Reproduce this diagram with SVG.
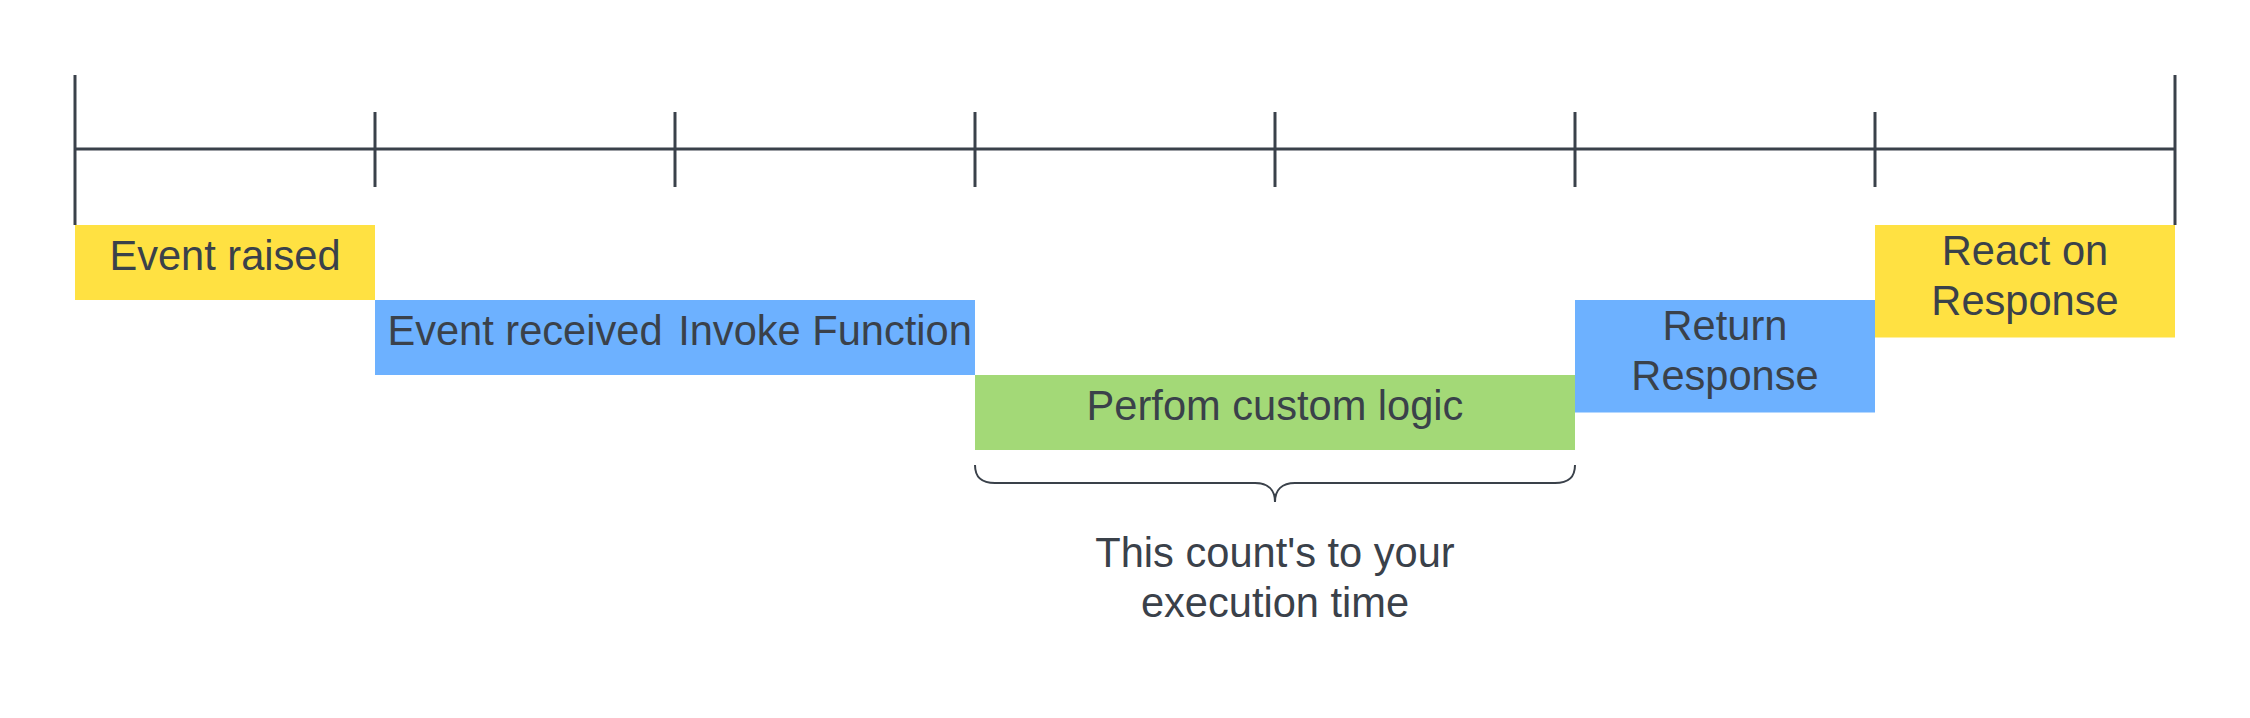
<svg xmlns="http://www.w3.org/2000/svg" width="2250" height="718" viewBox="0 0 2250 718">
  <style>
    .axis { stroke: #3A414A; stroke-width: 3; fill: none; }
    .brace { stroke: #3A414A; stroke-width: 2; fill: none; }
    .lbl { font-family: "Liberation Sans", Arial, sans-serif; font-size: 41.6px; fill: #3A414A; text-anchor: middle; }
    .yellow { fill: #FFE142; }
    .blue { fill: #6DB1FF; }
    .green { fill: #A3D977; }
  </style>
  <rect width="2250" height="718" fill="#FFFFFF"/>
  <g id="timeline">
    <line class="axis" x1="75" y1="149" x2="2175" y2="149"/>
    <line class="axis" x1="75" y1="75" x2="75" y2="225"/>
    <line class="axis" x1="2175" y1="75" x2="2175" y2="225"/>
    <line class="axis" x1="375" y1="112" x2="375" y2="187"/>
    <line class="axis" x1="675" y1="112" x2="675" y2="187"/>
    <line class="axis" x1="975" y1="112" x2="975" y2="187"/>
    <line class="axis" x1="1275" y1="112" x2="1275" y2="187"/>
    <line class="axis" x1="1575" y1="112" x2="1575" y2="187"/>
    <line class="axis" x1="1875" y1="112" x2="1875" y2="187"/>
  </g>
  <g id="event-raised">
    <rect class="yellow" x="75" y="225" width="300" height="75"/>
    <text class="lbl" x="225" y="270">Event raised</text>
  </g>
  <g id="event-received">
    <rect class="blue" x="375" y="300" width="300" height="75"/>
    <text class="lbl" x="525" y="345">Event received</text>
  </g>
  <g id="invoke-function">
    <rect class="blue" x="675" y="300" width="300" height="75"/>
    <text class="lbl" x="825" y="345">Invoke Function</text>
  </g>
  <g id="custom-logic">
    <rect class="green" x="975" y="375" width="600" height="75"/>
    <text class="lbl" x="1275" y="420">Perfom custom logic</text>
  </g>
  <g id="return-response">
    <rect class="blue" x="1575" y="300" width="300" height="112.5"/>
    <text class="lbl" x="1725" y="340">Return</text>
    <text class="lbl" x="1725" y="390">Response</text>
  </g>
  <g id="react-response">
    <rect class="yellow" x="1875" y="225" width="300" height="112.5"/>
    <text class="lbl" x="2025" y="265">React on</text>
    <text class="lbl" x="2025" y="315">Response</text>
  </g>
  <g id="connectors">
    <path class="brace" d="M975,465 C975,478 982,483 995,483 L1255,483 C1268,483 1275,490 1275,502 C1275,490 1282,483 1295,483 L1555,483 C1568,483 1575,478 1575,465"/>
  </g>
  <g id="execution-note">
    <text class="lbl" x="1275" y="567">This count's to your</text>
    <text class="lbl" x="1275" y="617">execution time</text>
  </g>
</svg>
